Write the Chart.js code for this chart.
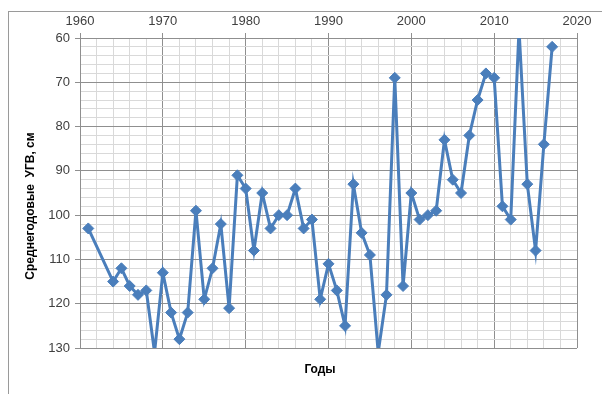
<!DOCTYPE html>
<html>
<head>
<meta charset="utf-8">
<script src="https://cdn.jsdelivr.net/npm/chart.js@4"></script>
<style>
  html, body { margin: 0; padding: 0; background: #fff; }
  #wrap { position: relative; width: 602px; height: 394px; overflow: hidden; }
  #frame { position: absolute; left: 8px; top: 11px; width: 700px; height: 500px; border: 1px solid #9a9a9a; }
  canvas { position: absolute; left: 0; top: 0; }
</style>
</head>
<body>
<div id="wrap">
  <div id="frame"></div>
  <canvas id="c" width="602" height="394"></canvas>
</div>
<script>
const years = [1961, 1964, 1965, 1966, 1967, 1968, 1969, 1970, 1971, 1972, 1973, 1974, 1975, 1976, 1977, 1978, 1979, 1980,
  1981, 1982, 1983, 1984, 1985, 1986, 1987, 1988, 1989, 1990, 1991, 1992, 1993, 1994, 1995, 1996, 1997, 1998, 1999, 2000,
  2001, 2002, 2003, 2004, 2005, 2006, 2007, 2008, 2009, 2010, 2011, 2012, 2013, 2014, 2015, 2016, 2017];
const levels = [103, 115, 112, 116, 118, 117, 131, 113, 122, 128, 122, 99, 119, 112, 102, 121, 91, 94,
  108, 95, 103, 100, 100, 94, 103, 101, 119, 111, 117, 125, 93, 104, 109, 131, 118, 69, 116, 95,
  101, 100, 99, 83, 92, 95, 82, 74, 68, 69, 98, 101, 58, 93, 108, 84, 62];
const xTickLabels = [1960, 1970, 1980, 1990, 2000, 2010, 2020];
const yTickLabels = [60, 70, 80, 90, 100, 110, 120, 130];
const xTitle = 'Годы';
const yTitle = 'Среднегодовые  УГВ, см';

const points = years.map((y, i) => ({ x: y, y: levels[i] }));
const majorGrid = '#8f8f8f';
const minorGrid = '#d9d9d9';

const titlesPlugin = {
  id: 'titles',
  afterDraw(chart) {
    const ctx = chart.ctx;
    ctx.save();
    ctx.fillStyle = '#000';
    ctx.font = 'bold 12px "Liberation Sans", Arial, sans-serif';
    ctx.textAlign = 'center';
    ctx.textBaseline = 'middle';
    ctx.fillText(xTitle, 320, 370);
    ctx.translate(31, 206);
    ctx.rotate(-Math.PI / 2);
    ctx.fillText(yTitle, 0, 0, 148);
    ctx.restore();
  }
};

new Chart(document.getElementById('c'), {
  type: 'line',
  data: {
    datasets: [{
      data: points,
      borderColor: '#4a7ebb',
      backgroundColor: '#4a7ebb',
      borderWidth: 3,
      pointStyle: 'rectRot',
      pointRadius: 5.5,
      pointBorderWidth: 1,
      pointBackgroundColor: '#4a7ebb',
      pointBorderColor: '#4a7ebb',
      tension: 0,
      fill: false
    }]
  },
  options: {
    responsive: false,
    animation: false,
    devicePixelRatio: 1,
    layout: { padding: { left: 0, top: 0, right: 25, bottom: 46 } },
    plugins: { legend: { display: false }, tooltip: { enabled: false } },
    scales: {
      x: {
        type: 'linear',
        position: 'top',
        min: 1960,
        max: 2020,
        afterFit(s) { s.height = 38; },
        ticks: {
          stepSize: 2,
          maxRotation: 0,
          autoSkip: false,
          padding: 4,
          color: '#404040',
          font: { size: 13, family: '"Liberation Sans", Arial, sans-serif' },
          callback: v => xTickLabels.includes(v) ? String(v) : ''
        },
        grid: {
          drawTicks: true,
          tickLength: 5,
          color: c => (c.tick && c.tick.value % 10 === 0) ? majorGrid : minorGrid,
          tickColor: c => (c.tick && c.tick.value % 10 === 0) ? majorGrid : 'rgba(0,0,0,0)'
        },
        border: { display: true, color: majorGrid }
      },
      y: {
        type: 'linear',
        position: 'left',
        reverse: true,
        min: 60,
        max: 130,
        afterFit(s) { s.width = 80; },
        ticks: {
          stepSize: 2,
          autoSkip: false,
          padding: 5,
          color: '#404040',
          font: { size: 13, family: '"Liberation Sans", Arial, sans-serif' },
          callback: v => yTickLabels.includes(v) ? String(v) : ''
        },
        grid: {
          drawTicks: true,
          tickLength: 5,
          color: c => (c.tick && c.tick.value % 10 === 0) ? majorGrid : minorGrid,
          tickColor: c => (c.tick && c.tick.value % 10 === 0) ? majorGrid : 'rgba(0,0,0,0)'
        },
        border: { display: true, color: majorGrid }
      }
    }
  },
  plugins: [titlesPlugin]
});
</script>
</body>
</html>
